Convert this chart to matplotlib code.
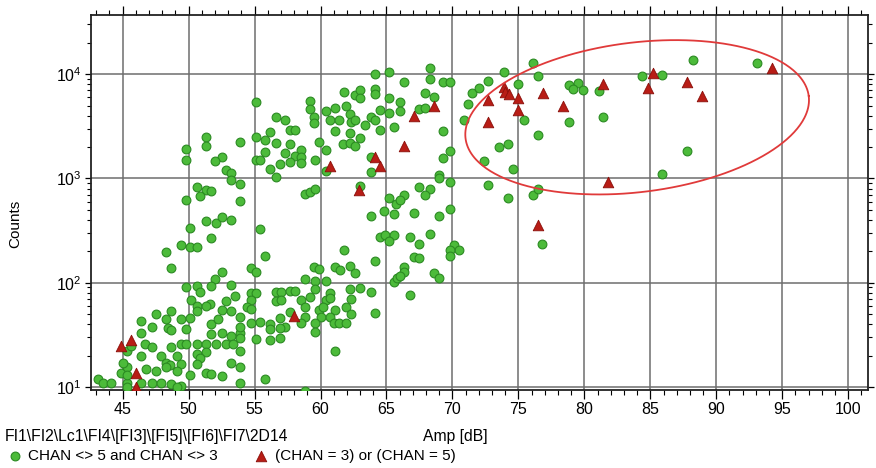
import numpy as np
import matplotlib
matplotlib.use('Agg')
import matplotlib.pyplot as plt
from matplotlib.ticker import MultipleLocator, LogLocator, NullFormatter

plt.rcParams['font.family'] = ['Liberation Sans', 'DejaVu Sans']

# CHAN <> 5 and CHAN <> 3
green_amp = [
    51.3, 51.3, 49.8, 49.8, 53.9, 52.5, 52.0, 52.8, 53.2, 53.2, 53.9, 50.6, 51.3, 51.7, 50.9, 49.8, 53.9,
    50.1, 51.3, 52.1, 52.5, 53.2, 51.7, 49.4, 50.1, 50.6, 48.3, 48.7, 52.5, 52.0, 51.7, 53.2, 49.8, 50.6,
    50.9, 53.5, 50.2, 52.8, 51.6, 50.6, 51.3, 52.5, 53.2, 50.6, 48.7, 47.5, 48.3, 49.4, 50.1, 46.4, 47.2,
    48.4, 49.8, 51.7, 52.2, 53.9, 46.4, 48.7, 51.7, 52.5, 53.2, 53.9, 46.7, 47.2, 49.4, 49.8, 48.7, 50.6,
    51.3, 52.1, 52.8, 53.4, 45.3, 45.6, 46.4, 47.9, 49.1, 50.6, 51.3, 50.9, 48.3, 49.4, 48.6, 50.6, 53.2,
    53.9, 44.9, 45.3, 46.8, 47.5, 48.3, 49.1, 50.1, 51.3, 51.7, 52.5, 43.1, 43.5, 44.1, 45.3, 46.4, 47.2,
    47.9, 48.7, 49.4, 49.1, 45.3, 53.9, 45.3, 45.0,
    55.4, 55.8, 54.7, 55.1, 63.8, 64.8, 65.6, 64.5, 64.9, 65.6, 65.2, 61.8, 64.1, 62.2, 62.6, 61.1, 61.5,
    59.5, 59.9, 58.8, 59.6, 60.4, 65.6, 65.8, 54.7, 55.1, 56.6, 57.0, 57.7, 58.1, 59.6, 60.7, 62.2, 62.3,
    63.0, 63.8, 54.7, 56.6, 57.0, 58.5, 59.2, 60.4, 60.7, 54.4, 54.7, 57.7, 58.8, 59.9, 61.1, 61.9, 60.2,
    62.3, 64.1, 56.9, 58.8, 60.0, 60.7, 54.7, 55.4, 56.2, 57.3, 58.5, 59.6, 61.0, 61.4, 61.9, 56.2, 56.9,
    59.6, 53.9, 53.9, 55.1, 56.2, 56.9, 61.1, 53.9, 55.8, 58.8,
    64.1, 65.2, 55.1, 61.8, 62.6, 63.0, 63.0, 64.1, 64.1, 65.2, 59.2, 59.2, 56.6, 57.3, 60.4, 61.1, 61.9,
    62.2, 59.5, 59.5, 60.7, 61.4, 62.3, 62.6, 63.4, 63.8, 64.1, 64.5, 65.2, 65.6, 64.5, 57.7, 58.1, 56.2,
    61.1, 62.2, 55.1, 55.8, 56.6, 57.7, 59.9, 61.7, 62.2, 62.6, 63.0, 58.5, 60.4, 55.8, 57.3, 58.1, 58.5,
    55.1, 55.4, 57.7, 58.5, 56.9, 59.6, 56.2, 56.6, 60.4, 63.8, 63.8, 58.8, 59.2, 59.6, 63.0, 65.2, 65.7,
    68.3, 68.3, 66.3, 69.3, 69.8, 67.9, 68.6, 66.0, 66.0, 67.5, 67.9, 69.3, 69.8, 69.3, 69.0, 69.0, 69.8,
    67.5, 68.3, 66.3, 67.9, 66.0, 67.1, 69.8, 69.0, 66.8, 68.3, 67.5, 70.1, 70.5, 69.8, 67.1, 67.5, 69.8,
    71.5, 72.0, 72.7, 73.9, 75.0, 76.1, 76.5, 71.2, 70.9, 75.4, 76.5, 73.5, 74.2, 72.4, 74.6, 72.7, 74.2,
    76.1, 76.5, 76.8,
    66.3, 66.3, 66.0, 68.6, 69.0, 66.8,
    88.2, 93.1, 84.4, 85.9, 78.8, 79.5, 79.1, 79.9, 81.1, 78.8, 81.4, 87.8, 85.9,
]
green_counts = [
    2500, 2070, 1900, 1520, 2230, 1620, 1470, 1200, 1120, 970, 890, 820, 775, 760, 680, 625, 605,
    336, 395, 372, 430, 400, 270, 230, 222, 222, 195, 139, 126, 109, 92, 96, 90, 94,
    82, 74, 69, 67, 63, 60, 60, 55, 54, 53, 53, 50, 45, 45, 46, 43, 38,
    37, 36, 40, 45, 47, 33, 35, 32, 33, 31, 33, 26, 24, 26, 26, 24, 25.7,
    26, 26, 26, 26, 22, 24.5, 20, 20, 20, 20.6, 21.7, 19, 17, 16.5, 16.3, 16.5, 17,
    15.4, 13.7, 15.4, 14.9, 14.2, 15.4, 14.2, 13, 13.7, 13.3, 12.8, 11.8, 11, 11, 11, 11, 11,
    11, 10.6, 10.2, 9.9, 9.9, 11, 13, 17,
    330, 182, 138, 126, 432, 490, 457, 274, 285, 290, 250, 204, 160, 145, 123, 141, 132,
    142, 134, 109, 104, 103, 101, 112, 80, 80, 82, 82, 83, 83, 88, 80, 88, 70,
    89, 82, 68, 67, 68, 69, 73, 68, 71, 58, 56, 52, 59, 55, 55, 58, 59,
    50, 51, 46, 47, 47, 47, 41, 42, 40, 37.5, 41, 41, 41, 41, 41, 36, 37,
    34, 38, 29.5, 29, 28, 29.7, 22, 22, 11.8, 9.2,
    10000, 10500, 5380, 6760, 6370, 7120, 5920, 7280, 6520, 5920, 5540, 4680, 3890, 3610, 4440, 4790, 4930,
    4190, 3890, 3400, 3670, 3670, 3480, 3610, 3230, 3890, 3670, 4500, 4250, 3110, 2940, 2940, 2940, 2790,
    2830, 2730, 2500, 2360, 2190, 2160, 2230, 2160, 2190, 2030, 2460, 1890, 1890, 1790, 1750, 1660, 1600,
    1510, 1490, 1440, 1410, 1380, 1510, 1230, 1040, 1190, 1620, 1150, 710, 740, 795, 840, 650, 570,
    11500, 9100, 8430, 8430, 8430, 6620, 6050, 5410, 4400, 4680, 4790, 2850, 1820, 1580, 1090, 1010, 922,
    826, 795, 700, 700, 620, 470, 510, 440, 276, 294, 233, 228, 204, 204, 175, 174, 182,
    6620, 7450, 8560, 10400, 8010, 12700, 9570, 5220, 3610, 3610, 2630, 2000, 2120, 1470, 1240, 875, 650,
    700, 795, 236,
    142, 128, 117, 123, 110, 77,
    13700, 12800, 9570, 9930, 7960, 8250, 7290, 7020, 6860, 3480, 3890, 1830, 1110,
]

# (CHAN = 3) or (CHAN = 5)
red_amp = [44.9, 45.6, 46.0, 46.0, 58.0, 60.7, 64.1, 64.5, 62.9, 68.6, 67.1, 66.3, 73.9, 74.0, 74.3,
           75.0, 76.9, 72.7, 75.0, 72.7, 76.5, 85.2, 94.2, 81.4, 84.8, 87.8, 88.9, 78.4, 81.8]
red_counts = [24.6, 28, 13.7, 10, 48, 1330, 1620, 1330, 776, 4960, 3950, 2070, 7550, 6760, 6520,
              5970, 6620, 5710, 4500, 3480, 354, 10300, 11350, 8140, 7380, 8430, 6140, 4930, 935]

fig = plt.figure(figsize=(8.76, 4.68), dpi=100)
ax = fig.add_axes([91 / 876, 1 - 390 / 468, 777 / 876, 375 / 468])

ax.set_yscale('log')
ax.set_xlim(42.6, 101.5)
ax.set_ylim(9.35, 37000)

ax.grid(True, which='major', color='#6e6e6e', lw=1.1)
ax.set_axisbelow(True)

g = ax.scatter(green_amp, green_counts, s=40, marker='o', facecolor='#4cbb3a',
               edgecolor='#2b8a22', linewidths=0.8, zorder=3)
r = ax.scatter(red_amp, red_counts, s=58, marker='^', facecolor='#b81d16',
               edgecolor='#8a0f0a', linewidths=0.6, zorder=4)

# highlighted region (ellipse drawn in screen-like units so it stays an ellipse on log axis)
px_x, px_dec = 13.2, 104.0
cx, cy = 84.0, 3.587
a, b, th = 173.0, 74.6, np.deg2rad(7)
t = np.linspace(0, 2 * np.pi, 400)
dx = a * np.cos(t) * np.cos(th) - b * np.sin(t) * np.sin(th)
dy = a * np.cos(t) * np.sin(th) + b * np.sin(t) * np.cos(th)
ax.plot(cx + dx / px_x, 10 ** (cy + dy / px_dec), color='#e03a3a', lw=1.3, zorder=5)

ax.xaxis.set_major_locator(MultipleLocator(5))
ax.xaxis.set_minor_locator(MultipleLocator(1))
ax.set_xticks(np.arange(45, 101, 5))
ax.yaxis.set_major_locator(LogLocator(base=10, numticks=10))
ax.yaxis.set_minor_locator(LogLocator(base=10, subs=np.arange(2, 10), numticks=10))
ax.yaxis.set_minor_formatter(NullFormatter())

ax.tick_params(axis='x', which='major', direction='out', length=6.5, width=0.9,
               top=True, bottom=True, labelsize=11.5, pad=2)
ax.tick_params(axis='x', which='minor', direction='out', length=3.6, width=0.8, top=True, bottom=True)
ax.tick_params(axis='y', which='major', direction='out', length=4.5, width=0.9,
               left=True, right=True, labelsize=11.5, pad=2)
ax.tick_params(axis='y', which='minor', direction='out', length=3.2, width=0.8, left=True, right=True)
for sp in ax.spines.values():
    sp.set_linewidth(1.3)
    sp.set_color('#222222')

fig.text(15 / 876, 1 - 224 / 468, 'Counts', rotation=90, ha='center', va='center', fontsize=11)
fig.text(5 / 876, 1 - 437 / 468, r'FI1\FI2\Lc1\FI4\[FI3]\[FI5]\[FI6]\FI7\2D14', ha='left', va='center', fontsize=11.3)
fig.text(455 / 876, 1 - 437 / 468, 'Amp [dB]', ha='center', va='center', fontsize=11.3)

fig.legend([g, r], ['CHAN <> 5 and CHAN <> 3', '(CHAN = 3) or (CHAN = 5)'],
           loc='center left', bbox_to_anchor=(7 / 876, 1 - 456 / 468), ncol=2, frameon=False,
           fontsize=11, handletextpad=0.4, columnspacing=2.3, borderpad=0, borderaxespad=0,
           handlelength=1.0, scatterpoints=1)

fig.savefig('out.png', dpi=100)
